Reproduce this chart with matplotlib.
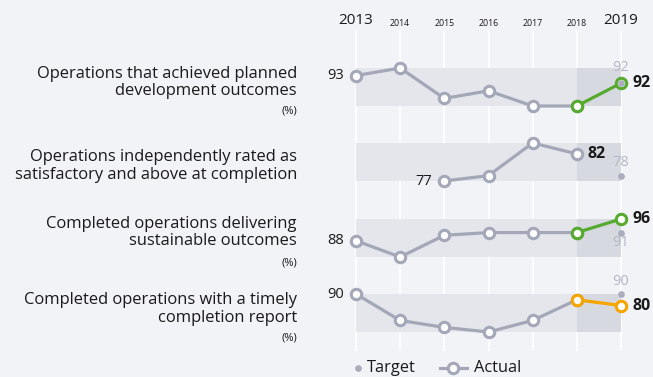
import matplotlib.pyplot as plt

plt.rcParams['font.family'] = ['Open Sans', 'DejaVu Sans']

# Data
years = [2013, 2014, 2015, 2016, 2017, 2018, 2019]
titles = [
    "Operations that achieved planned\ndevelopment outcomes",
    "Operations independently rated as\nsatisfactory and above at completion",
    "Completed operations delivering\nsustainable outcomes",
    "Completed operations with a timely\ncompletion report",
]
show_pct = [True, False, True, True]
planned = [93, 94, 90, 91, 89, 89, 92]
rated = [None, None, 77, 78, 84, 82, None]
sustainable = [88, 82, 90, 91, 91, 91, 96]
timely = [90, 67, 61, 57, 67, 85, 80]
actuals = [planned, rated, sustainable, timely]
targets = [92, 78, 91, 90]
target_label_dy = [11.5, 9.5, -7, 9]   # points above (+) or below (-) the target dot
highlight = ["#56ab2f", None, "#56ab2f", "#f5a400"]

# Colours
BG = "#f2f3f7"
BAND = "#e5e6ec"
BAND_DARK = "#d7d9e1"
GREY = "#a3a7b7"
TARGET = "#a9adbc"
TARGET_TXT = "#b4b7c5"
INK = "#1a1a1a"

W, H = 653, 377
fig = plt.figure(figsize=(W / 100, H / 100), dpi=100, facecolor=BG)


def px_axes(x0, y0, x1, y1):
    ax = fig.add_axes([x0 / W, 1 - y1 / H, (x1 - x0) / W, (y1 - y0) / H])
    ax.set_facecolor("none")
    ax.axis("off")
    return ax


# horizontal layout: first year at x=356 px, last at x=621 px
X0, X1 = 300, 653
step = (621 - 356) / (len(years) - 1)
xlim = (years[0] - (356 - X0) / step, years[-1] + (X1 - 621) / step)

# background: white year gridlines and year headings
bg = px_axes(X0, 0, X1, H)
bg.set_xlim(*xlim)
bg.set_ylim(H, 0)
bg.vlines(years, 30, 351, color="white", lw=1.3, zorder=0)
for yr in years:
    big = yr in (years[0], years[-1])
    bg.text(yr, 21 if big else 23, str(yr), ha="center", va="center",
            fontsize=11 if big else 6.3, color=INK)

# one row per indicator; band covers the actual value range
bands = [(68, 106), (143, 181), (219, 257), (294, 332)]
pad = 28
for i, (top, bot) in enumerate(bands):
    ax = px_axes(X0, top - pad, X1, bot + pad)
    ax.set_xlim(*xlim)
    vals = actuals[i]
    pts = [(y, v) for y, v in zip(years, vals) if v is not None]
    vs = [v for _, v in pts]
    vmin, vmax = min(vs), max(vs)
    ppu = (bot - top) / (vmax - vmin)
    ax.set_ylim(vmin - pad / ppu, vmax + pad / ppu)

    ax.fill_between([years[0], years[-2]], vmin, vmax, color=BAND, lw=0, zorder=1)
    ax.fill_between([years[-2], years[-1]], vmin, vmax, color=BAND_DARK, lw=0, zorder=1)

    xs = [p[0] for p in pts]
    col = highlight[i]
    n_grey = len(xs) - 1 if col else len(xs)
    ax.plot(xs[:n_grey], vs[:n_grey], color=GREY, lw=2.3, zorder=2,
            solid_capstyle="round")
    ax.plot(xs[:n_grey], vs[:n_grey], ls="none", marker="o", ms=7.5,
            mfc="white", mec=GREY, mew=2.2, zorder=3)
    if col:
        ax.plot(xs[-2:], vs[-2:], color=col, lw=2.3, zorder=3)
        ax.plot(xs[-2:], vs[-2:], ls="none", marker="o", ms=7.5,
                mfc="white", mec=col, mew=2.2, zorder=4)

    # target dot for the last year
    ax.plot(years[-1], targets[i], ls="none", marker="o", ms=3.8,
            color=TARGET, zorder=5)
    ax.annotate(str(targets[i]), (years[-1], targets[i]),
                xytext=(0, target_label_dy[i]), textcoords="offset points",
                ha="center", va="center", fontsize=10.5, color=TARGET_TXT)

    # first and latest actual values
    ax.annotate(str(vs[0]), (xs[0], vs[0]), xytext=(-9, 0),
                textcoords="offset points", ha="right", va="center",
                fontsize=10.5, color=INK)
    ax.annotate(str(vs[-1]), (xs[-1], vs[-1]), xytext=(8, 0),
                textcoords="offset points", ha="left", va="center",
                fontsize=11.5, fontweight="bold", color=INK)

# row titles on the left
title_y = [82.5, 166, 232.5, 309]
pct_y = [111, None, 262.7, 337.7]
for i, t in enumerate(titles):
    fig.text(297 / W, 1 - title_y[i] / H, t, ha="right", va="center",
             fontsize=11.9, linespacing=1.09, color=INK)
    if show_pct[i]:
        fig.text(297 / W, 1 - pct_y[i] / H, "(%)", ha="right", va="center",
                 fontsize=8, color=INK)

# legend, laid out in pixels along the bottom
lg = px_axes(0, 355, W, H)
lg.set_xlim(0, W)
lg.set_ylim(H, 355)
ly = 368
lg.plot(358, ly, ls="none", marker="o", ms=3.8, color=TARGET)
lg.text(367, ly, "Target", ha="left", va="center", fontsize=11.8, color=INK)
lg.plot([440, 467], [ly, ly], color=GREY, lw=2.3)
lg.plot(453, ly, ls="none", marker="o", ms=7.5, mfc="white", mec=GREY, mew=2.2)
lg.text(474, ly, "Actual", ha="left", va="center", fontsize=11.8, color=INK)

fig.savefig("out.png", dpi=100, facecolor=BG)
